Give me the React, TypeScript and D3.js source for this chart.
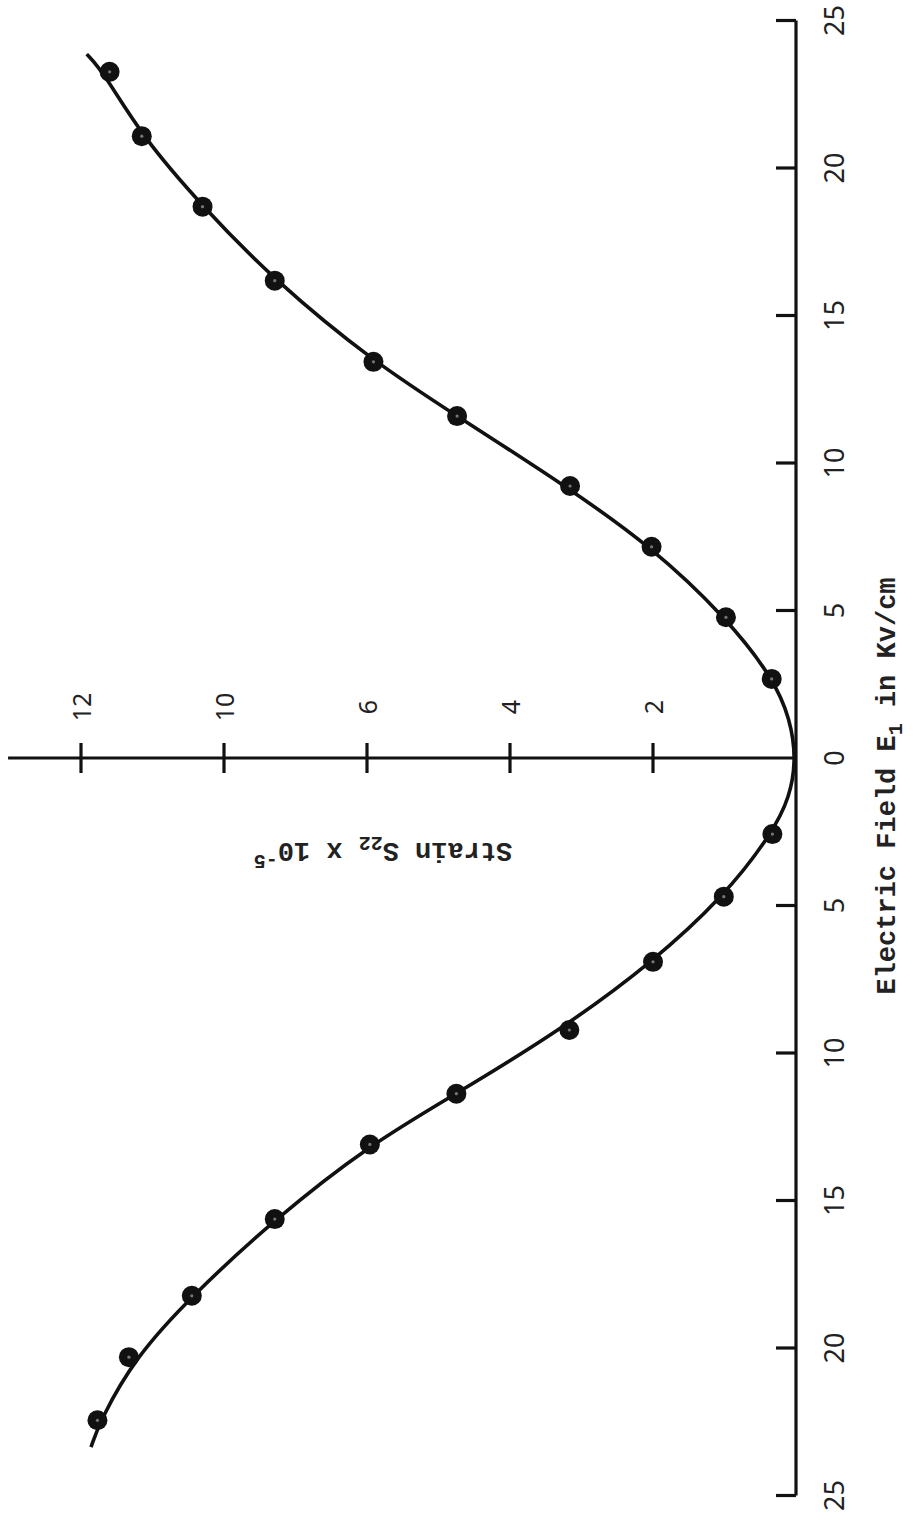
import React from 'react';
import { scaleLinear, line, curveBasis } from 'd3';

// measured points, E in kV/cm (positive up the page), strain S22 x 1e-5
const pointField = [23.26, 21.08, 18.69, 16.18, 13.43, 11.59, 9.22, 7.16, 4.77, 2.68,
  -2.58, -4.7, -6.91, -9.22, -11.38, -13.1, -15.63, -18.23, -20.31, -22.45];
const pointStrain = [9.6, 9.15, 8.3, 7.29, 5.91, 4.74, 3.16, 2.02, 0.98, 0.34,
  0.33, 1.01, 2.0, 3.17, 4.75, 5.96, 7.29, 8.45, 9.33, 9.77];

// drawn fit curve
const curveField = [23.86, 23.26, 21.08, 18.69, 16.18, 13.43, 11.59, 9.22, 7.16, 4.77, 2.68, 1.3, 0,
  -1.3, -2.58, -4.7, -6.91, -9.22, -11.38, -13.1, -15.63, -18.23, -20.31, -22.45, -23.36];
const curveStrain = [9.92, 9.69, 9.15, 8.3, 7.29, 5.91, 4.74, 3.22, 2.02, 0.98, 0.31, 0.08, 0,
  0.08, 0.34, 1.01, 2.0, 3.29, 4.75, 5.96, 7.29, 8.45, 9.24, 9.73, 9.86];

const fieldTicks = [-25, -20, -15, -10, -5, 5, 10, 15, 20, 25];
const fieldTickLabels = ['25', '20', '15', '10', '5', '0', '5', '10', '15', '20', '25'];
const fieldLabelValues = [-25, -20, -15, -10, -5, 0, 5, 10, 15, 20, 25];
const strainTicks = [2, 4, 6, 8, 10];
const strainTickLabels = ['2', '4', '6', '10', '12']; // as printed on the original

export default function App() {
  const width = 920;
  const height = 1520;

  // page is turned: field runs down the page, strain grows to the left
  const yE = scaleLinear().domain([-25, 25]).range([1495.5, 20.5]);
  const xS = scaleLinear().domain([0, 10]).range([796, 81]);

  const curvePts = curveField.map((e, i) => [curveStrain[i], e] as [number, number]);
  const curvePath = line<[number, number]>()
    .x((d) => xS(d[0]))
    .y((d) => yE(d[1]))
    .curve(curveBasis)(curvePts);

  const axisX = xS(0);
  const axisY = yE(0);

  return (
    <svg
      width={width}
      height={height}
      style={{ position: 'absolute', left: 0, top: 0, background: '#fff' }}
    >
      {/* field axis */}
      <line x1={axisX} x2={axisX} y1={yE(25)} y2={yE(-25)} stroke="#111" strokeWidth={3.2} />
      {fieldTicks.map((t) => (
        <line key={t} x1={axisX - 20} x2={axisX} y1={yE(t)} y2={yE(t)} stroke="#111" strokeWidth={3.2} />
      ))}
      {fieldLabelValues.map((t, i) => (
        <text
          key={t}
          transform={`translate(833,${yE(t)}) rotate(-90)`}
          textAnchor="middle"
          dominantBaseline="central"
          fontFamily="Noto Sans, sans-serif"
          fontSize={27}
          fill="#222"
        >
          {fieldTickLabels[i]}
        </text>
      ))}

      {/* strain axis */}
      <line x1={xS(11.02)} x2={axisX} y1={axisY} y2={axisY} stroke="#111" strokeWidth={3.2} />
      {strainTicks.map((t) => (
        <line key={t} x1={xS(t)} x2={xS(t)} y1={axisY - 15} y2={axisY + 15} stroke="#111" strokeWidth={3.2} />
      ))}
      {strainTicks.map((t, i) => (
        <text
          key={t}
          transform={`translate(${xS(t)},${axisY - 51}) rotate(-90)`}
          textAnchor="middle"
          dominantBaseline="central"
          fontFamily="Noto Sans, sans-serif"
          fontSize={25}
          fill="#222"
        >
          {strainTickLabels[i]}
        </text>
      ))}

      {/* fit curve */}
      <path d={curvePath ?? ''} fill="none" stroke="#111" strokeWidth={3.6} />

      {/* data points */}
      {pointField.map((e, i) => (
        <g key={i}>
          <circle cx={xS(pointStrain[i])} cy={yE(e)} r={10} fill="#111" />
          <circle cx={xS(pointStrain[i])} cy={yE(e)} r={1.6} fill="#777" />
        </g>
      ))}

      {/* axis titles */}
      <text
        transform="translate(383,850) rotate(180)"
        textAnchor="middle"
        dominantBaseline="central"
        fontFamily="Liberation Mono, monospace"
        fontWeight="bold"
        fontSize={27}
        fill="#222"
      >
        Strain S<tspan fontSize={20} dy={7}>22</tspan>
        <tspan dy={-7}> x 10</tspan>
        <tspan fontSize={20} dy={-11}>-5</tspan>
      </text>
      <text
        transform="translate(888,786) rotate(-90)"
        textAnchor="middle"
        dominantBaseline="central"
        fontFamily="Liberation Mono, monospace"
        fontWeight="bold"
        fontSize={27}
        fill="#222"
      >
        Electric Field E<tspan fontSize={20} dy={8}>1</tspan>
        <tspan dy={-8}> in Kv/cm</tspan>
      </text>
    </svg>
  );
}
